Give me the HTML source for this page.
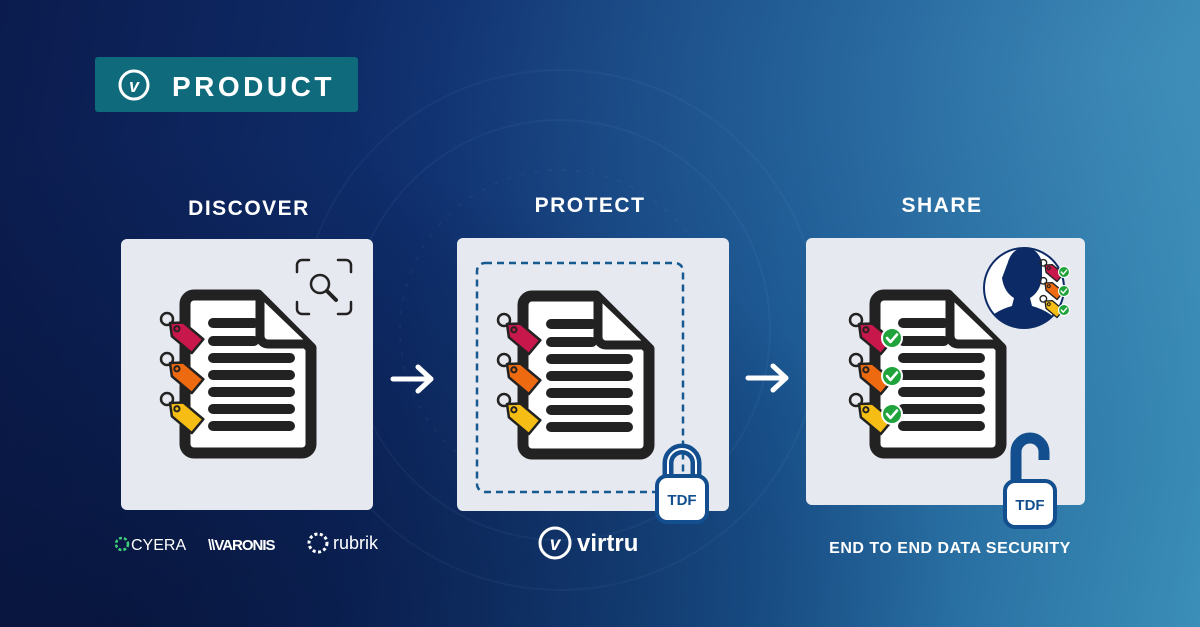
<!DOCTYPE html>
<html><head><meta charset="utf-8"><style>
html,body{margin:0;padding:0;width:1200px;height:627px;overflow:hidden}
body{background:linear-gradient(100deg,#0b1b4d 0%,#0f2f6e 35%,#1a5590 65%,#3b8fb8 100%);position:relative;font-family:"Liberation Sans",sans-serif}
.ov{position:absolute;inset:0;background:radial-gradient(ellipse at 10% 100%,rgba(6,16,50,.7),transparent 55%),radial-gradient(ellipse at 95% 10%,rgba(90,170,210,.3),transparent 50%)}
svg{position:absolute;left:0;top:0}
</style></head><body><div class="ov"></div>
<svg width="1200" height="627" viewBox="0 0 1200 627" xmlns="http://www.w3.org/2000/svg">
<defs>
<g id="doc">
<path d="M14,5 H78 L131,58 V154 a9,9 0 0 1 -9,9 H14 a9,9 0 0 1 -9,-9 V14 a9,9 0 0 1 9,-9Z" fill="#fff" stroke="#222" stroke-width="11" stroke-linejoin="round"/>
<path d="M80,8 V46 a8,8 0 0 0 8,8 H128" fill="#fff" stroke="#222" stroke-width="9" stroke-linejoin="round"/>
<g stroke="#222" stroke-width="10" stroke-linecap="round">
<line x1="33" y1="33" x2="74" y2="33"/><line x1="33" y1="51" x2="74" y2="51"/>
<line x1="33" y1="68" x2="110" y2="68"/><line x1="33" y1="85" x2="110" y2="85"/>
<line x1="33" y1="102" x2="110" y2="102"/><line x1="33" y1="119" x2="110" y2="119"/>
<line x1="33" y1="136" x2="110" y2="136"/></g>
</g>
<g id="tagR"><circle cx="-3" cy="-4" r="6" fill="none" stroke="#222" stroke-width="2.5"/><g transform="rotate(40)"><path d="M0,0 L10,-9 H36 V9 H10 Z" fill="#c8174a" stroke="#222" stroke-width="2.5" stroke-linejoin="round"/><circle cx="9" cy="0" r="2.6" fill="none" stroke="#222" stroke-width="2"/></g></g>
<g id="tagO"><circle cx="-3" cy="-4" r="6" fill="none" stroke="#222" stroke-width="2.5"/><g transform="rotate(40)"><path d="M0,0 L10,-9 H36 V9 H10 Z" fill="#ee6a10" stroke="#222" stroke-width="2.5" stroke-linejoin="round"/><circle cx="9" cy="0" r="2.6" fill="none" stroke="#222" stroke-width="2"/></g></g>
<g id="tagY"><circle cx="-3" cy="-4" r="6" fill="none" stroke="#222" stroke-width="2.5"/><g transform="rotate(40)"><path d="M0,0 L10,-9 H36 V9 H10 Z" fill="#f6be14" stroke="#222" stroke-width="2.5" stroke-linejoin="round"/><circle cx="9" cy="0" r="2.6" fill="none" stroke="#222" stroke-width="2"/></g></g>
<g id="chk"><circle r="10" fill="#1fa33a" stroke="#fff" stroke-width="2"/><path d="M-5,0 L-1.5,4 L5,-3.5" fill="none" stroke="#fff" stroke-width="2.6" stroke-linecap="round" stroke-linejoin="round"/></g>
</defs>

<g fill="none" stroke="rgba(140,190,230,.06)" stroke-width="2">
<circle cx="560" cy="330" r="210"/><circle cx="560" cy="330" r="260"/><circle cx="560" cy="330" r="160" stroke-dasharray="4 10"/></g>

<rect x="95" y="57" width="263" height="55" rx="3" fill="#0f6a7c"/>
<circle cx="134" cy="85" r="14" fill="none" stroke="#fff" stroke-width="3"/>
<text x="134" y="92" font-size="18" font-weight="bold" font-style="italic" fill="#fff" text-anchor="middle">v</text>
<text x="172" y="96" font-size="28" font-weight="bold" fill="#fff" letter-spacing="3.5">PRODUCT</text>

<g font-weight="bold" font-size="21" fill="#fff" text-anchor="middle" letter-spacing="1.5">
<text x="249" y="215">DISCOVER</text><text x="590" y="212">PROTECT</text><text x="942" y="212">SHARE</text></g>

<rect x="121" y="239" width="252" height="271" rx="6" fill="#e6e9ef"/>
<rect x="457" y="238" width="272" height="273" rx="6" fill="#e6e9ef"/>
<rect x="806" y="238" width="279" height="267" rx="6" fill="#e6e9ef"/>

<g stroke="#fff" stroke-width="5" fill="none" stroke-linecap="round" stroke-linejoin="round">
<path d="M393,379 H430 M418,367 L431,379 L418,391"/>
<path d="M748,378 H785 M773,366 L786,378 L773,390"/></g>

<g fill="none" stroke="#222" stroke-width="2.5" stroke-linecap="round">
<path d="M297,272 V265 a5,5 0 0 1 5,-5 H309 M338,260 H346 a5,5 0 0 1 5,5 V272 M351,302 V309 a5,5 0 0 1 -5,5 H338 M309,314 H302 a5,5 0 0 1 -5,-5 V302"/>
<circle cx="320" cy="284" r="9"/><path d="M327,291 L336,300" stroke-width="4"/></g>
<g transform="translate(180,290)"><use href="#doc"/></g>
<use href="#tagR" x="170" y="323"/><use href="#tagO" x="170" y="363"/><use href="#tagY" x="170" y="403"/>

<rect x="477" y="263" width="206" height="229" rx="8" fill="none" stroke="#175a92" stroke-width="2.5" stroke-dasharray="7 5"/>
<g transform="translate(518,291)"><use href="#doc"/></g>
<use href="#tagR" x="507" y="324"/><use href="#tagO" x="507" y="364"/><use href="#tagY" x="507" y="404"/>
<g transform="translate(682,485)">
<path d="M-14,-8 V-22 a14,14 0 0 1 28,0 V-8" fill="none" stroke="#134f8e" stroke-width="11"/>
<path d="M-14,-8 V-22 a14,14 0 0 1 28,0 V-8" fill="none" stroke="#fff" stroke-width="2"/>
<rect x="-25" y="-9" width="50" height="46" rx="10" fill="#fff" stroke="#134f8e" stroke-width="4"/>
<text x="0" y="20" font-size="15" font-weight="bold" fill="#134f8e" text-anchor="middle">TDF</text></g>

<g transform="translate(870,290)"><use href="#doc"/></g>
<use href="#tagR" x="859" y="324"/><use href="#tagO" x="859" y="364"/><use href="#tagY" x="859" y="404"/>
<use href="#chk" x="892" y="338"/><use href="#chk" x="892" y="376"/><use href="#chk" x="892" y="414"/>
<clipPath id="cc"><circle cx="1024" cy="288" r="40"/></clipPath>
<circle cx="1024" cy="288" r="40" fill="#fff"/>
<g clip-path="url(#cc)" fill="#0c2b66">
<path d="M1008,262 a18,22 0 0 1 34,0 v16 q-2,14 -12,20 l2,8 q22,6 30,22 v20 h-80 v-20 q8,-16 30,-22 l2,-8 q-10,-6 -12,-20z"/></g>
<circle cx="1024" cy="288" r="40" fill="none" stroke="#0c2b66" stroke-width="2"/>
<g transform="translate(1045,265) scale(.55)"><use href="#tagR"/></g>
<g transform="translate(1045,283) scale(.55)"><use href="#tagO"/></g>
<g transform="translate(1045,301) scale(.55)"><use href="#tagY"/></g>
<g transform="translate(1064,272) scale(.55)"><use href="#chk"/></g>
<g transform="translate(1064,291) scale(.55)"><use href="#chk"/></g>
<g transform="translate(1064,310) scale(.55)"><use href="#chk"/></g>
<g transform="translate(1030,490)">
<path d="M-14,-8 V-38 a14,14 0 0 1 28,0 V-30" fill="none" stroke="#134f8e" stroke-width="11"/>
<rect x="-25" y="-9" width="50" height="46" rx="10" fill="#fff" stroke="#134f8e" stroke-width="4"/>
<text x="0" y="20" font-size="15" font-weight="bold" fill="#134f8e" text-anchor="middle">TDF</text></g>

<circle cx="122" cy="544" r="6" fill="none" stroke="#3fd07a" stroke-width="2.5" stroke-dasharray="3 2"/>
<text x="131" y="550" font-size="16" fill="#fff">CYERA</text>
<text x="208" y="550" font-size="15" font-weight="bold" fill="#fff" letter-spacing="-1">\\VARONIS</text>
<circle cx="318" cy="543" r="9" fill="none" stroke="#fff" stroke-width="3" stroke-dasharray="3 2.5"/>
<text x="333" y="549" font-size="18" fill="#fff">rubrik</text>
<circle cx="555" cy="543" r="15" fill="none" stroke="#fff" stroke-width="3"/>
<text x="555" y="550" font-size="19" font-weight="bold" font-style="italic" fill="#fff" text-anchor="middle">v</text>
<text x="577" y="551" font-size="24" font-weight="bold" fill="#fff">virtru</text>
<text x="950" y="553" font-size="16" font-weight="bold" fill="#fff" text-anchor="middle" letter-spacing=".5">END TO END DATA SECURITY</text>
</svg></body></html>
